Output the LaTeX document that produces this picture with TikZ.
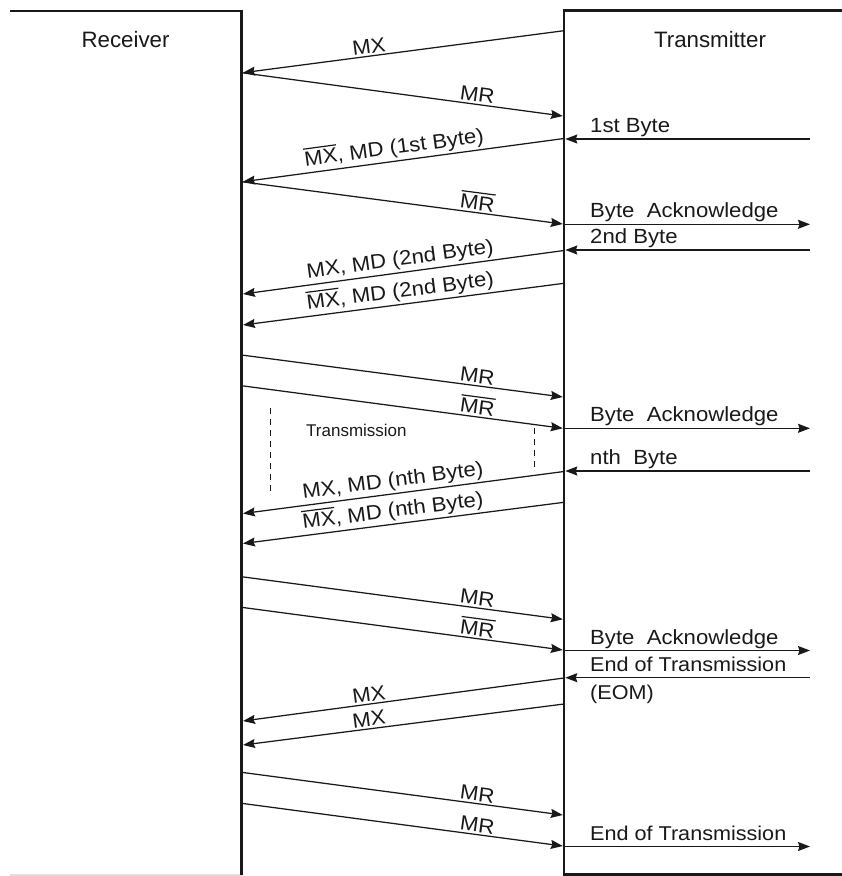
\documentclass[tikz,border=0pt]{standalone}
\usepackage{fontspec}
\setmainfont{Liberation Sans}
\newfontfamily\lblfont{Liberation Sans}[FakeStretch=1.08]
\usetikzlibrary{arrows.meta}
\definecolor{ink}{gray}{0.1}
\newcommand\ovbar[1]{\setbox0\hbox{#1}\rlap{\rule[\dimexpr\ht0+2.6pt\relax]{\wd0}{1.2pt}}\box0}
\begin{document}
\begin{tikzpicture}[x=1pt,y=-1pt,
  box/.style={line width=2.6pt,draw=ink},
  msg/.style={draw=ink,line width=1.25pt,-{Stealth[length=12pt,width=9pt,inset=1.5pt]}},
  lbl/.style={text=ink,font=\lblfont\fontsize{20.5}{24}\selectfont,inner sep=0pt},
  eot/.style={text=ink,font=\lblfont\fontsize{20}{24}\selectfont,inner sep=0pt,anchor=base west},
  slab/.style={lbl,sloped,above,inner sep=2pt},
  rlab/.style={lbl,anchor=base west},
  head/.style={text=ink,font=\fontsize{22.3}{26}\selectfont,inner sep=0pt,anchor=base},
  dashln/.style={draw=ink,line width=1pt,dash pattern=on 6pt off 5pt}]
\useasboundingbox (0,0) rectangle (842,876);

% boxes
\coordinate (rtl) at (10,11);
\coordinate (rtr) at (241.5,11);
\coordinate (rbr) at (241.5,875);
\coordinate (rbl) at (10,875);
\coordinate (ttl) at (564,10.5);
\coordinate (ttr) at (842,10.5);
\coordinate (tbl) at (564,874.5);
\coordinate (tbr) at (842,874.5);
\draw[line width=1.5pt,draw=black!12] (rbl) -- (rbr);
\draw[box] (rtl) -- (rtr) -- (rbr);
\draw[box] (ttr) -- (ttl) -- (tbl) -- (tbr);

\node[head] (recv) at (125.5,47.3) {Receiver};
\node[head] (trans) at (710,47.3) {Transmitter};

% coordinates
\coordinate (T1) at (564,30.7);   \coordinate (R1) at (243,72.7);
\coordinate (R2) at (241.5,72.7); \coordinate (T2) at (562.8,116);
\coordinate (X1) at (810,139);    \coordinate (T3) at (565.3,139);
\coordinate (T4) at (564,138.5);  \coordinate (R4) at (243,181.7);
\coordinate (R5) at (241.5,181.7);\coordinate (T5) at (562.8,224);
\coordinate (T6) at (564,224.3);  \coordinate (X6) at (810,224.3);
\coordinate (X7) at (810,250);    \coordinate (T7) at (565.3,250);
\coordinate (T8) at (564,250.5);  \coordinate (R8) at (243,294);
\coordinate (T9) at (564,283.3);  \coordinate (R9) at (243,325);
\coordinate (R10) at (241.5,355); \coordinate (T10) at (562.8,397);
\coordinate (R11) at (241.5,385.7);\coordinate (T11) at (562.8,428.3);
\coordinate (T12) at (564,428.3); \coordinate (X12) at (810,428.3);
\coordinate (X13) at (810,471);   \coordinate (T13) at (565.3,471);
\coordinate (T14) at (564,471.5); \coordinate (R14) at (243,513.5);
\coordinate (T15) at (564,502.3); \coordinate (R15) at (243,543.5);
\coordinate (R16) at (241.5,576.7);\coordinate (T16) at (562.8,619.3);
\coordinate (R17) at (241.5,607.3);\coordinate (T17) at (562.8,650);
\coordinate (T18) at (564,650.5); \coordinate (X18) at (810,650.5);
\coordinate (X19) at (810,677.7); \coordinate (T19) at (565.3,677.7);
\coordinate (T20) at (564,678);   \coordinate (R20) at (243,721);
\coordinate (T21) at (564,704);   \coordinate (R21) at (243,745);
\coordinate (R22) at (241.5,772.3);\coordinate (T22) at (562.8,815);
\coordinate (R23) at (241.5,803.3);\coordinate (T23) at (562.8,846);
\coordinate (T24) at (564,846.5); \coordinate (X24) at (810,846.5);

% sloped messages
\draw[msg] (T1) -- (R1) node[slab,pos=0.604] (l1) {MX};
\draw[msg] (R2) -- (T2) node[slab,pos=0.73] (l2) {MR};
\draw[msg] (T4) -- (R4) node[slab,pos=0.524] (l4) {\ovbar{MX}, MD (1st Byte)};
\draw[msg] (R5) -- (T5) node[slab,pos=0.73] (l5) {\ovbar{MR}};
\draw[msg] (T8) -- (R8) node[slab,pos=0.505] (l8) {MX, MD (2nd Byte)};
\draw[msg] (T9) -- (R9) node[slab,pos=0.505] (l9) {\ovbar{MX}, MD (2nd Byte)};
\draw[msg] (R10) -- (T10) node[slab,pos=0.73] (l10) {MR};
\draw[msg] (R11) -- (T11) node[slab,pos=0.73] (l11) {\ovbar{MR}};
\draw[msg] (T14) -- (R14) node[slab,pos=0.528] (l14) {MX, MD (nth Byte)};
\draw[msg] (T15) -- (R15) node[slab,pos=0.528] (l15) {\ovbar{MX}, MD (nth Byte)};
\draw[msg] (R16) -- (T16) node[slab,pos=0.73] (l16) {MR};
\draw[msg] (R17) -- (T17) node[slab,pos=0.73] (l17) {\ovbar{MR}};
\draw[msg] (T20) -- (R20) node[slab,pos=0.604] (l20) {MX};
\draw[msg] (T21) -- (R21) node[slab,pos=0.604] (l21) {MX};
\draw[msg] (R22) -- (T22) node[slab,pos=0.73] (l22) {MR};
\draw[msg] (R23) -- (T23) node[slab,pos=0.73] (l23) {MR};

% horizontal signals at the transmitter
\draw[msg] (X1) -- (T3);
\draw[msg] (T6) -- (X6);
\draw[msg] (X7) -- (T7);
\draw[msg] (T12) -- (X12);
\draw[msg] (X13) -- (T13);
\draw[msg] (T18) -- (X18);
\draw[msg] (X19) -- (T19);
\draw[msg] (T24) -- (X24);

\node[rlab] (h1) at (590,132.6) {1st Byte};
\node[rlab] (h6) at (590,217.9) {Byte\ \ Acknowledge};
\node[rlab] (h7) at (590,243.4) {2nd Byte};
\node[rlab] (h12) at (590,421.9) {Byte\ \ Acknowledge};
\node[rlab] (h13) at (590,464.4) {nth\ \ Byte};
\node[rlab] (h18) at (590,644.1) {Byte\ \ Acknowledge};
\node[eot] (h19) at (590,671.5) {End of Transmission};
\node[eot] (h19b) at (590,699.5) {(EOM)};
\node[eot] (h24) at (590,840.2) {End of Transmission};

% transmission bracket
\coordinate (d1a) at (270,408); \coordinate (d1b) at (270,495);
\coordinate (d2a) at (534.5,428); \coordinate (d2b) at (534.5,470);
\draw[dashln] (d1a) -- (d1b);
\draw[dashln] (d2a) -- (d2b);
\node[text=ink,font=\fontsize{17}{20}\selectfont,inner sep=0pt,anchor=base west] (tx) at (306,436.7) {Transmission};
\end{tikzpicture}
\end{document}
